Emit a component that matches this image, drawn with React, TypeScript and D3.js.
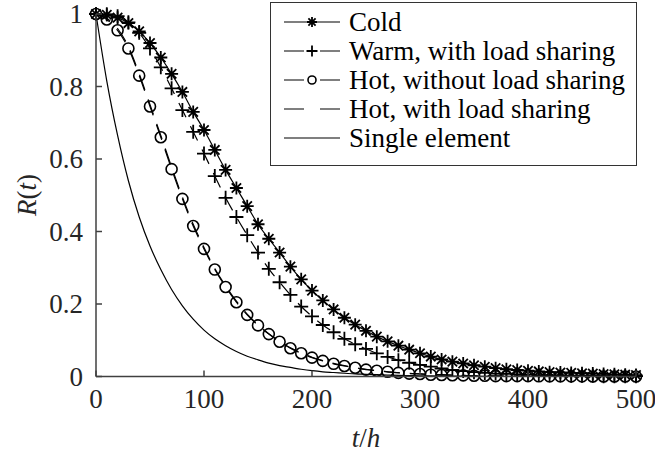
import React from "react";
import * as d3 from "d3";

// sample times (h)
const times = d3.range(0, 501, 10);

const cold = [1.0, 0.998, 0.99, 0.975, 0.952, 0.92, 0.88, 0.835, 0.785, 0.73, 0.68, 0.625, 0.57, 0.52, 0.47, 0.42, 0.38, 0.342, 0.303, 0.268, 0.237, 0.21, 0.185, 0.162, 0.143, 0.126, 0.11, 0.097, 0.085, 0.074, 0.064, 0.055, 0.047, 0.041, 0.036, 0.031, 0.027, 0.023, 0.02, 0.018, 0.016, 0.014, 0.012, 0.011, 0.01, 0.009, 0.008, 0.007, 0.006, 0.005, 0.004];
const warm = [1.0, 0.999, 0.994, 0.977, 0.948, 0.905, 0.853, 0.795, 0.735, 0.675, 0.615, 0.553, 0.493, 0.44, 0.39, 0.342, 0.297, 0.26, 0.225, 0.193, 0.166, 0.142, 0.122, 0.104, 0.089, 0.076, 0.064, 0.054, 0.045, 0.038, 0.032, 0.027, 0.022, 0.018, 0.015, 0.012, 0.01, 0.008, 0.007, 0.006, 0.005, 0.004, 0.003, 0.003, 0.002, 0.002, 0.002, 0.001, 0.001, 0.001, 0.001];
const hotNoShare = [1.0, 0.985, 0.955, 0.905, 0.83, 0.745, 0.66, 0.572, 0.49, 0.415, 0.352, 0.295, 0.247, 0.205, 0.17, 0.141, 0.117, 0.096, 0.078, 0.064, 0.052, 0.043, 0.035, 0.029, 0.024, 0.019, 0.016, 0.013, 0.01, 0.008, 0.007, 0.005, 0.004, 0.0035, 0.003, 0.002, 0.002, 0.001, 0.001, 0.001, 0.001, 0.0005, 0.0005, 0.0005, 0.0003, 0.0003, 0.0002, 0.0002, 0.0001, 0.0001, 0.0001];
const hotShare = [1.0, 0.988, 0.96, 0.91, 0.835, 0.75, 0.665, 0.578, 0.495, 0.42, 0.356, 0.298, 0.25, 0.208, 0.172, 0.143, 0.118, 0.097, 0.079, 0.065, 0.053, 0.044, 0.036, 0.03, 0.024, 0.02, 0.016, 0.013, 0.011, 0.009, 0.007, 0.006, 0.005, 0.004, 0.003, 0.002, 0.002, 0.002, 0.001, 0.001, 0.001, 0.0006, 0.0005, 0.0005, 0.0003, 0.0003, 0.0002, 0.0002, 0.0001, 0.0001, 0.0001];
const single = [1.0, 0.815, 0.665, 0.54, 0.44, 0.36, 0.295, 0.24, 0.195, 0.158, 0.128, 0.104, 0.085, 0.069, 0.056, 0.046, 0.037, 0.03, 0.025, 0.02, 0.016, 0.013, 0.011, 0.009, 0.007, 0.006, 0.005, 0.004, 0.003, 0.0025, 0.002, 0.0017, 0.0014, 0.0011, 0.0009, 0.0007, 0.0006, 0.0005, 0.0004, 0.0003, 0.0003, 0.0002, 0.0002, 0.0001, 0.0001, 0.0001, 0.0001, 0, 0, 0, 0];

const xTicks = [0, 100, 200, 300, 400, 500];
const yTicks = [0, 0.2, 0.4, 0.6, 0.8, 1];

const seriesNames = ["Cold", "Warm, with load sharing", "Hot, without load sharing", "Hot, with load sharing", "Single element"];

const FONT = "Liberation Serif";
const FS = 27;
const W = 655;
const H = 456;

const x = d3.scaleLinear().domain([0, 500]).range([96, 636]);
const y = d3.scaleLinear().domain([0, 1]).range([376.5, 14]);

const asterisk = (s: number) => {
  const d = s * 0.72;
  return `M${-s},0H${s}M0,${-s}V${s}M${-d},${-d}L${d},${d}M${-d},${d}L${d},${-d}`;
};
const plus = (s: number) => `M${-s},0H${s}M0,${-s}V${s}`;

type Series = { name: string; values: number[]; dash?: string; marker?: "ast" | "plus" | "circ" };

const series: Series[] = [
  { name: seriesNames[4], values: single },
  { name: seriesNames[3], values: hotShare, dash: "16,10" },
  { name: seriesNames[2], values: hotNoShare, dash: "16,10", marker: "circ" },
  { name: seriesNames[1], values: warm, dash: "16,10", marker: "plus" },
  { name: seriesNames[0], values: cold, marker: "ast" },
];

const legendOrder = [4, 3, 2, 1, 0];

function Marker({ kind, cx, cy, small }: { kind?: string; cx: number; cy: number; small?: boolean }) {
  if (!kind) return null;
  if (kind === "circ")
    return <circle cx={cx} cy={cy} r={small ? 4 : 5.5} fill="none" stroke="#000" strokeWidth={1.6} />;
  const d = kind === "ast" ? asterisk(small ? 5 : 6.5) : plus(small ? 5.5 : 7);
  return <path d={d} transform={`translate(${cx},${cy})`} fill="none" stroke="#000" strokeWidth={1.8} />;
}

function Label({ x, y, anchor, rotate, fill = "#262626", children }: { x: number; y: number; anchor?: string; rotate?: number; fill?: string; children: React.ReactNode }) {
  return (
    <text
      x={rotate ? 0 : x}
      y={rotate ? 0 : y}
      transform={rotate ? `translate(${x},${y}) rotate(${rotate})` : undefined}
      fontSize={FS}
      textAnchor={anchor}
      fill={fill}
      fontFamily={FONT}
    >
      {children}
    </text>
  );
}

export default function App() {
  const line = d3
    .line<number>()
    .x((_, i) => x(times[i]))
    .y((v) => y(v))
    .curve(d3.curveMonotoneX);

  const lx0 = 284;
  const lx1 = 340;
  const rowY = (i: number) => 22 + i * 29;

  return (
    <svg width={W} height={H} style={{ position: "absolute", left: 0, top: 0, background: "#fff" }}>
      {/* curves */}
      {series.map((s) => (
        <g key={s.name}>
          <path d={line(s.values) || ""} fill="none" stroke="#000" strokeWidth={1.2} strokeDasharray={s.dash} />
          {s.values.map((v, i) => (
            <Marker key={i} kind={s.marker} cx={x(times[i])} cy={y(v)} />
          ))}
        </g>
      ))}

      {/* axes */}
      <g stroke="#404040" strokeWidth={1.5}>
        <line x1={x(0)} x2={x(0)} y1={y(0)} y2={y(1)} />
        <line x1={x(0)} x2={x(500)} y1={y(0)} y2={y(0)} />
        {xTicks.map((t) => (
          <line key={t} x1={x(t)} x2={x(t)} y1={y(0)} y2={y(0) - 6} />
        ))}
        {yTicks.map((t) => (
          <line key={t} x1={x(0)} x2={x(0) + 6} y1={y(t)} y2={y(t)} />
        ))}
      </g>
      {xTicks.map((t) => (
        <Label key={t} x={x(t)} y={y(0) + 31} anchor="middle">
          {t}
        </Label>
      ))}
      {yTicks.map((t) => (
        <Label key={t} x={x(0) - 13} y={y(t) + 9} anchor="end">
          {t}
        </Label>
      ))}
      <Label x={366} y={447} anchor="middle">
        <tspan fontStyle="italic">t</tspan>/<tspan fontStyle="italic">h</tspan>
      </Label>
      <Label x={36} y={195} anchor="middle" rotate={-90}>
        <tspan fontStyle="italic">R</tspan>(<tspan fontStyle="italic">t</tspan>)
      </Label>

      {/* legend */}
      <rect x={270.5} y={2.5} width={366} height={163} fill="#fff" stroke="#333" strokeWidth={1} />
      {legendOrder.map((si, i) => {
        const s = series[si];
        const cy = rowY(i);
        return (
          <g key={s.name}>
            <line x1={lx0} x2={lx1} y1={cy} y2={cy} stroke="#000" strokeWidth={1.2} strokeDasharray={s.dash ? "20,16" : undefined} />
            <Marker kind={s.marker} cx={(lx0 + lx1) / 2} cy={cy} small />
            <Label x={349} y={cy + 9} fill="#000">
              {s.name}
            </Label>
          </g>
        );
      })}
    </svg>
  );
}
